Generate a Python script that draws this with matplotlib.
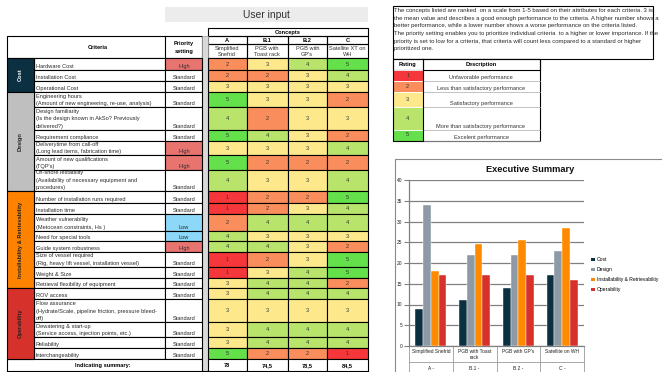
import numpy as np
import matplotlib.pyplot as plt
from matplotlib.patches import Rectangle, Patch
from matplotlib.lines import Line2D

plt.rcParams["font.family"] = ["Liberation Sans", "DejaVu Sans"]

# scoring sheet
groups = ["Cost", "Design", "Installability & Retrievability", "Operability"]
group_sizes = [3, 6, 8, 5]
criteria = [
    "Hardware Cost",
    "Installation Cost",
    "Operational Cost",
    "Engineering hours\n(Amount of new engineering, re-use, analysis)",
    "Design familiarity\n(Is the design known in AkSo? Previously\ndelivered?)",
    "Requirement compliance",
    "Deliverytime from call-off\n(Long lead items, fabrication time)",
    "Amount of new qualifications\n(TQP's)",
    "On-shoreTestability\n(Availability of necessary equipment and\nprocedures)",
    "Number of installation runs required",
    "Installation time",
    "Weather vulnerability\n(Metocean constraints, Hs )",
    "Need for special tools",
    "Guide system robustness",
    "Size of vessel required\n(Rig, heavy lift vessel, installation vessel)",
    "Weight & Size",
    "Retrieval flexibility of equipment",
    "ROV access",
    "Flow assurance\n(Hydrate/Scale, pipeline friction, pressure bleed-\noff)",
    "Dewatering & start-up\n(Service access, injection points, etc.)",
    "Reliability",
    "Interchangeability",
]
priority = ["High", "Standard", "Standard", "Standard", "Standard", "Standard",
            "High", "High", "Standard", "Standard", "Standard", "Low", "Low",
            "High", "Standard", "Standard", "Standard", "Standard", "Standard",
            "Standard", "Standard", "Standard"]
concept_ids = ["A", "B.1", "B.2", "C"]
concept_names = ["Simplified\nSnefrid", "PGB with\nToast rack", "PGB with\nGP's", "Satellite XT on\nWH"]
scores_a = [2, 2, 3, 5, 4, 5, 3, 5, 4, 1, 1, 2, 4, 4, 1, 1, 3, 3, 3, 3, 3, 5]
scores_b1 = [3, 2, 3, 3, 2, 4, 3, 2, 3, 2, 2, 4, 3, 4, 2, 3, 4, 4, 3, 4, 4, 2]
scores_b2 = [4, 3, 3, 3, 3, 3, 3, 2, 3, 2, 3, 4, 3, 3, 3, 4, 4, 4, 3, 4, 4, 2]
scores_c = [5, 4, 3, 2, 3, 2, 4, 2, 4, 5, 4, 4, 3, 2, 5, 5, 2, 4, 3, 4, 4, 1]
summary = ["78", "74,5", "78,5", "84,5"]

info_lines = [
    "The concepts listed are ranked  on a scale from 1-5 based on their attributes for each criteria. 3 is",
    "the mean value and describes a good enough performance to the criteria. A higher number shows a",
    "better performance, while a lower number shows a worse performance on the criteria listed.",
    "The priority setting enables you to prioritize individual criteria  to a higher or lower importance. If the",
    "priority is set to low for a criteria, that criteria will count less compared to a standard or higher",
    "prioritized one.",
]
ratings = [1, 2, 3, 4, 5]
rating_text = ["Unfavorable performance", "Less than satisfactory performance",
               "Satisfactory performance", "More than satisfactory performance",
               "Excelent performance"]

# executive summary
chart_labels = ["Simplified Snefrid", "PGB with Toast\nrack", "PGB with GP's", "Satellite on WH"]
chart_ids = ["A -", "B.1 -", "B.2 -", "C -"]
cost = [9, 11, 14, 17]
design = [34, 22, 22, 23]
installability = [18, 24.5, 25.5, 28.5]
operability = [17, 17, 17, 16]

score_colors = {1: "#f5363a", 2: "#f98d5c", 3: "#fde98c", 4: "#b8e46b", 5: "#63e04a"}
prio_colors = {"High": "#e87470", "Low": "#8dd8f8", "Standard": "white"}
group_colors = ["#0b3041", "#bfbfbf", "#fd8200", "#d6312a"]
group_text = ["white", "#222222", "#222222", "#222222"]
bar_colors = ["#0b3041", "#8d9aa5", "#ff8a00", "#d8302a"]

# sheet grid (pixel units)
row_edges = [58, 70, 81, 92, 107, 129.5, 140.5, 155, 170, 191, 203, 214, 230.5,
             241, 252, 266.5, 277.5, 288, 299, 322, 337, 348, 359]
col_edges = [208, 246.5, 287.5, 327, 368]
FS = 4.1
INFO_FS = 4.3
LINE = 7.4

fig = plt.figure(figsize=(6.62, 3.72), dpi=100)
ax = fig.add_axes([0, 0, 1, 1])
ax.set_xlim(0, 662)
ax.set_ylim(372, 0)
ax.axis("off")


def box(x0, y0, x1, y1, fc="none", ec="black", lw=0.8, z=1):
    ax.add_patch(Rectangle((x0, y0), x1 - x0, y1 - y0, facecolor=fc,
                           edgecolor=ec, linewidth=lw, zorder=z))


def hline(y, x0, x1, c="black", lw=0.8):
    ax.add_line(Line2D([x0, x1], [y, y], color=c, lw=lw, zorder=3))


def vline(x, y0, y1, c="black", lw=0.8):
    ax.add_line(Line2D([x, x], [y0, y1], color=c, lw=lw, zorder=3))


def bottom_text(x, y_bot, s, ha="left", **kw):
    lines = s.split("\n")
    for i, ln in enumerate(lines):
        y = y_bot - 3.4 - (len(lines) - 1 - i) * LINE
        ax.text(x, y, ln, ha=ha, va="center", fontsize=FS, color="#2a2a2a", **kw)


# title box
box(165, 7, 368, 21.5, fc="#ececec", ec="none")
ax.text(266, 14.5, "User input", ha="center", va="center", fontsize=7.4, color="#333333")

# header
box(7, 36, 202, 58, fc="white")
vline(165, 36, 58)
ax.text(98, 47.5, "Criteria", ha="center", va="center", fontsize=FS, weight="bold")
ax.text(184, 44, "Priority", ha="center", va="center", fontsize=FS, weight="bold")
ax.text(184, 52, "setting", ha="center", va="center", fontsize=FS, weight="bold")
box(208, 28, 368, 36)
ax.text(288, 32.2, "Concepts", ha="center", va="center", fontsize=FS, weight="bold")
for j in range(4):
    x0, x1 = col_edges[j], col_edges[j + 1]
    box(x0, 36, x1, 44)
    box(x0, 44, x1, 58)
    ax.text((x0 + x1) / 2, 40.2, concept_ids[j], ha="center", va="center", fontsize=FS, weight="bold")
    n1, n2 = concept_names[j].split("\n")
    ax.text((x0 + x1) / 2, 48.5, n1, ha="center", va="center", fontsize=FS, color="#333333")
    ax.text((x0 + x1) / 2, 54.5, n2, ha="center", va="center", fontsize=FS, color="#333333")

# gap column
box(202, 36, 208, 372, fc="#d9d9d9", ec="#9a9a9a", lw=0.5)

# criteria rows
all_scores = [scores_a, scores_b1, scores_b2, scores_c]
for i in range(len(criteria)):
    y0, y1 = row_edges[i], row_edges[i + 1]
    box(34, y0, 165, y1, fc="white")
    box(165, y0, 202, y1, fc=prio_colors[priority[i]])
    bottom_text(35.5, y1, criteria[i])
    bottom_text(184, y1, priority[i], ha="center")
    for j in range(4):
        v = all_scores[j][i]
        box(col_edges[j], y0, col_edges[j + 1], y1, fc=score_colors[v])
        ax.text((col_edges[j] + col_edges[j + 1]) / 2, (y0 + y1) / 2 + 0.3, str(v),
                ha="center", va="center", fontsize=FS, color="#333333")

# category bands
start = 0
for g, n in enumerate(group_sizes):
    y0, y1 = row_edges[start], row_edges[start + n]
    box(7, y0, 34, y1, fc=group_colors[g], z=2)
    ax.text(20.5, (y0 + y1) / 2, groups[g], rotation=90, ha="center", va="center",
            fontsize=FS, weight="bold", color=group_text[g], zorder=4)
    start += n

# summary row
box(7, 359, 202, 372, fc="white")
ax.text(103, 365.7, "Indicating summary:", ha="center", va="center", fontsize=FS, weight="bold")
for j in range(4):
    box(col_edges[j], 359, col_edges[j + 1], 372, fc="white")
    ax.text((col_edges[j] + col_edges[j + 1]) / 2, 365.7, summary[j], ha="center",
            va="center", fontsize=FS, weight="bold")
hline(370.5, 7, 368)

# explanation box
box(393, 5.5, 652.5, 58.5, fc="white")
for k, ln in enumerate(info_lines):
    ax.text(394.5, 10.8 + k * 7.45 + (0.6 if k >= 3 else 0), ln, ha="left", va="center",
            fontsize=INFO_FS, color="#2a2a2a")

# rating legend
box(393, 58.5, 540, 70, fc="white")
vline(422.5, 58.5, 70)
ax.text(407.7, 64.3, "Rating", ha="center", va="center", fontsize=FS, weight="bold")
ax.text(481, 64.3, "Description", ha="center", va="center", fontsize=FS, weight="bold")
for k, r in enumerate(ratings):
    y0, y1 = row_edges[k + 1], row_edges[k + 2]
    box(393, y0, 422.5, y1, fc=score_colors[r], ec="white", lw=0.6)
    hline(y1, 422.5, 540, c="#aaaaaa", lw=0.5)
    ax.text(407.7, (y0 + y1) / 2, str(r), ha="center", va="center", fontsize=FS, color="#333333")
    ax.text(481, y1 - 3.2, rating_text[k], ha="center", va="center", fontsize=FS, color="#333333")
box(393, 58.5, 540, 140.5, fc="none")
vline(422.5, 58.5, 140.5)

# chart frame
box(395, 158.5, 700, 400, fc="white", ec="#8a8a8a", lw=0.8, z=1)
ax.text(530, 169, "Executive Summary", ha="center", va="center", fontsize=6.7,
        weight="bold", color="#111111", zorder=4)

bx = fig.add_axes([409 / 662, 26 / 372, 175 / 662, 166 / 372])
bx.patch.set_alpha(0)
x = np.arange(len(chart_labels))
w = 0.178
series = [cost, design, installability, operability]
for i, vals in enumerate(series):
    bx.bar(x + (i - 1.5) * w, vals, w, color=bar_colors[i], label=groups[i],
           edgecolor="white", linewidth=0.3, zorder=3)
bx.set_xlim(-0.5, 3.5)
bx.set_ylim(0, 40)
bx.set_yticks(range(0, 41, 5))
bx.yaxis.grid(True, color="#808080", lw=0.9, zorder=0)
bx.tick_params(axis="y", length=3.5, color="#808080", labelsize=3.5, pad=1.5, labelcolor="#222222")
bx.set_xticks(x, chart_labels)
bx.tick_params(axis="x", length=0, labelsize=3.5, pad=2.2, labelcolor="#222222")
for s in ["top", "right"]:
    bx.spines[s].set_visible(False)
for s in ["left", "bottom"]:
    bx.spines[s].set_color("#808080")
    bx.spines[s].set_linewidth(0.9)
tr = bx.get_xaxis_transform()
for b in np.arange(-0.5, 4, 1.0):
    bx.add_line(Line2D([b, b], [0, -0.17], transform=tr, color="#9a9a9a", lw=0.6, clip_on=False))
bx.add_line(Line2D([-0.5, 3.5], [-0.095, -0.095], transform=tr, color="#9a9a9a", lw=0.6, clip_on=False))
for i, lab in enumerate(chart_ids):
    bx.text(i, -0.133, lab, transform=tr, ha="center", va="center", fontsize=3.5, color="#222222")

handles = [Patch(facecolor=c, label=g) for c, g in zip(bar_colors, groups)]
fig.legend(handles=handles, loc="upper left", bbox_to_anchor=(589 / 662, 1 - 255 / 372),
           frameon=False, fontsize=3.6, handlelength=0.7, handleheight=0.7,
           handletextpad=0.5, labelspacing=1.0, borderaxespad=0)

fig.savefig("out.png", dpi=100)
